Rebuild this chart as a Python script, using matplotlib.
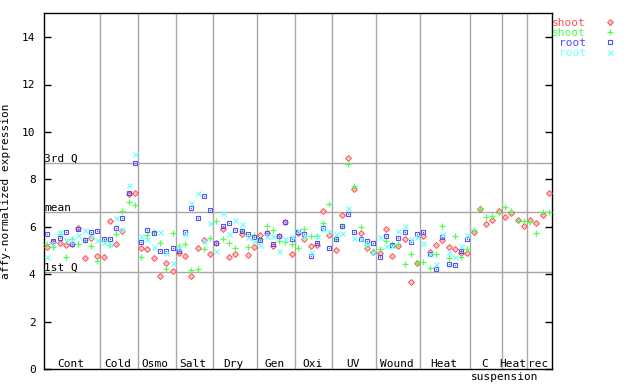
import numpy as np
import matplotlib
matplotlib.use("Agg")
import matplotlib.pyplot as plt
from matplotlib.lines import Line2D

# sample groups along the x axis (number of samples in each)
groups = ["Cont", "Cold", "Osmo", "Salt", "Dry", "Gen", "Oxi", "UV",
          "Wound", "Heat", "C", "Heat", "rec"]
group_sizes = [9, 6, 6, 6, 7, 6, 6, 7, 7, 8, 5, 4, 4]

nan = np.nan
shoot_a = [5.14, 5.35, 5.34, 5.24, 5.27, 5.95, 4.70, 5.52, 4.76,
           4.75, 6.25, 5.28, 5.81, 7.37, 7.42,
           5.10, 5.06, 4.68, 3.93, 4.49, 4.14,
           4.89, 4.76, 3.93, 5.10, 5.45, 4.85,
           5.31, 5.90, 4.74, 4.85, 5.70, 4.82, 5.14,
           5.67, 5.75, 5.20, 5.61, 6.20, 4.85,
           5.73, 5.50, 5.19, 5.25, 6.68, 5.65,
           5.02, 6.51, 8.90, 7.59, 5.74, 5.10, 4.94,
           4.90, 5.90, 4.77, 5.20, 5.49, 3.67, 4.47,
           5.60, 4.94, 5.23, 5.44, 5.15, 5.06, 4.89, 4.92,
           5.77, 6.74, 6.12, 6.29, 6.69,
           6.41, 6.58, 6.29, 6.03,
           6.29, 6.16, 6.50, 7.43]
shoot_b = [5.27, 5.17, 5.72, 4.74, 5.48, 5.28, 5.45, 5.18, 4.55,
           5.40, 5.24, 5.72, 6.68, 7.04, 6.93,
           4.74, 5.66, 5.80, 5.31, 4.23, 5.73,
           5.20, 5.27, 4.19, 4.22, 5.06, 5.52,
           6.26, 5.48, 5.31, 5.10, 5.82, 5.14, 5.66,
           5.50, 6.03, 5.88, 5.40, 5.37, 5.29,
           5.10, 5.90, 5.60, 5.61, 6.15, 6.98,
           5.50, 6.05, 8.65, 7.74, 5.99, 5.22, 5.00,
           5.08, 5.40, 5.30, 5.30, 4.44, 4.85, 4.47,
           4.51, 4.26, 4.85, 6.03, 4.68, 5.61, 4.74, 5.06,
           5.85, 6.81, 6.41, 6.46, 6.58,
           6.84, 6.68, 6.29, 6.26,
           6.20, 5.74, 6.64, 6.62]
root_a = [5.69, 5.41, 5.52, 5.79, 5.27, 5.92, 5.45, 5.79, 5.83,
          5.48, 5.48, 5.94, 6.37, 7.43, 8.69,
          5.35, 5.86, 5.73, 4.99, 5.00, 5.10,
          4.98, 5.79, 6.79, 6.37, 7.31, 6.70,
          5.31, 6.03, 6.17, 5.86, 5.82, 5.69, 5.56,
          5.46, 5.75, 5.27, 5.61, 6.20, 5.51,
          5.78, 5.70, 4.77, 5.32, 5.95, 5.10,
          5.50, 6.03, 6.54, 5.78, 5.50, 5.40, 5.32,
          4.73, 5.61, 5.22, 5.53, 5.78, 5.36, 5.68,
          5.78, 4.85, 4.22, 5.56, 4.43, 4.39, 4.98, 5.49,
          nan, nan, nan, nan, nan,
          nan, nan, nan, nan,
          nan, nan, nan, nan]
root_b = [4.74, 5.30, 5.80, 5.45, 5.45, 5.66, 5.87, 5.60, 5.45,
          5.37, 5.30, 6.37, 5.90, 7.75, 9.08,
          5.62, 5.48, 5.14, 5.79, 4.90, 4.47,
          5.14, 5.69, 7.00, 7.42, 5.40, 6.16,
          5.00, 6.58, 5.71, 6.28, 6.11, 5.56, 5.40,
          5.23, 5.60, 5.63, 4.98, 5.50, 5.62,
          5.85, 5.60, 4.96, 5.60, 5.90, 5.84,
          5.71, 5.74, 6.79, 5.53, 5.50, 5.30, 4.94,
          5.56, 5.19, 5.20, 5.84, 6.03, 5.50, 5.58,
          5.32, 4.85, 4.44, 5.70, 4.96, 4.73, 5.20, 5.64,
          nan, nan, nan, nan, nan,
          nan, nan, nan, nan,
          nan, nan, nan, nan]

q1, q_mean, q3 = 4.09, 6.62, 8.69

red = "#ff5050"
green = "#50ff50"
blue = "#5050ff"
cyan = "#70ffff"
grey = "#a8a8a8"
mono = "DejaVu Sans Mono"

x = np.arange(len(shoot_a))
bounds = np.cumsum(group_sizes)
starts = np.concatenate([[0], bounds[:-1]])

fig = plt.figure(figsize=(6.4, 3.84), dpi=100)
ax = fig.add_axes([44 / 640, 1 - 369.3 / 384, 508 / 640, 356 / 384])
ax.set_xlim(-0.5, len(x) - 0.5)
ax.set_ylim(0, 15)

# section separators and quartile lines
for b in bounds[:-1]:
    ax.axvline(b - 0.5, color=grey, lw=1, zorder=1)
for q, name in [(q3, "3rd Q"), (q_mean, "mean"), (q1, "1st Q")]:
    ax.axhline(q, color=grey, lw=1, zorder=1)
    ax.text(-0.45, q + 0.06, name, family=mono, fontsize=8, va="baseline", ha="left")

red_style = dict(ls="none", marker="D", ms=3.0, mfc="#ffc8c8", mec=red, mew=0.7)
green_style = dict(ls="none", marker="+", ms=4.4, mec=green, mew=0.9)
blue_style = dict(ls="none", marker="s", ms=3.5, mfc="none", mec=blue, mew=0.8)
cyan_style = dict(ls="none", marker="x", ms=3.6, mec=cyan, mew=0.9)

ax.plot(x, shoot_a, zorder=3, **red_style)
ax.plot(x, shoot_b, zorder=3, **green_style)
ax.plot(x, root_a, zorder=3, **blue_style)
ax.plot(x, root_a, ls="none", marker="s", ms=0.8, mfc=blue, mec=blue, mew=0, zorder=3)
ax.plot(x, root_b, zorder=3, **cyan_style)

# group labels inside the bottom of the plot
for name, s, n in zip(groups, starts, group_sizes):
    ax.text(s + n / 2 - 0.75, 0.11, name, family=mono, fontsize=8, ha="center", va="baseline")
ax.text(bounds[9] + group_sizes[10], -0.12, "suspension", family=mono, fontsize=8,
        ha="center", va="top", clip_on=False)

ax.set_xticks([])
ax.set_yticks(np.arange(0, 15, 2))
ax.tick_params(axis="y", direction="in", length=5, width=1, pad=6,
               right=True, labelsize=8)
for lab in ax.get_yticklabels():
    lab.set_family(mono)
for sp in ax.spines.values():
    sp.set_linewidth(1)
ax.set_ylabel("affy-normalized expression", family=mono, fontsize=8)
ax.yaxis.set_label_coords(-33 / 508, 0.5)

handles = [Line2D([], [], **red_style), Line2D([], [], **green_style),
           Line2D([], [], **blue_style), Line2D([], [], **cyan_style)]
ax.legend(handles, ["shoot", "shoot", "root", "root"], loc="upper left",
          bbox_to_anchor=(552 / 640, 1 - 17.5 / 384), bbox_transform=fig.transFigure,
          frameon=False, markerfirst=False, borderpad=0, borderaxespad=0,
          handlelength=1, handletextpad=1.7, labelspacing=0.0,
          labelcolor=[red, green, blue, cyan], prop={"family": mono, "size": 8})

fig.savefig("out.png", dpi=100)
